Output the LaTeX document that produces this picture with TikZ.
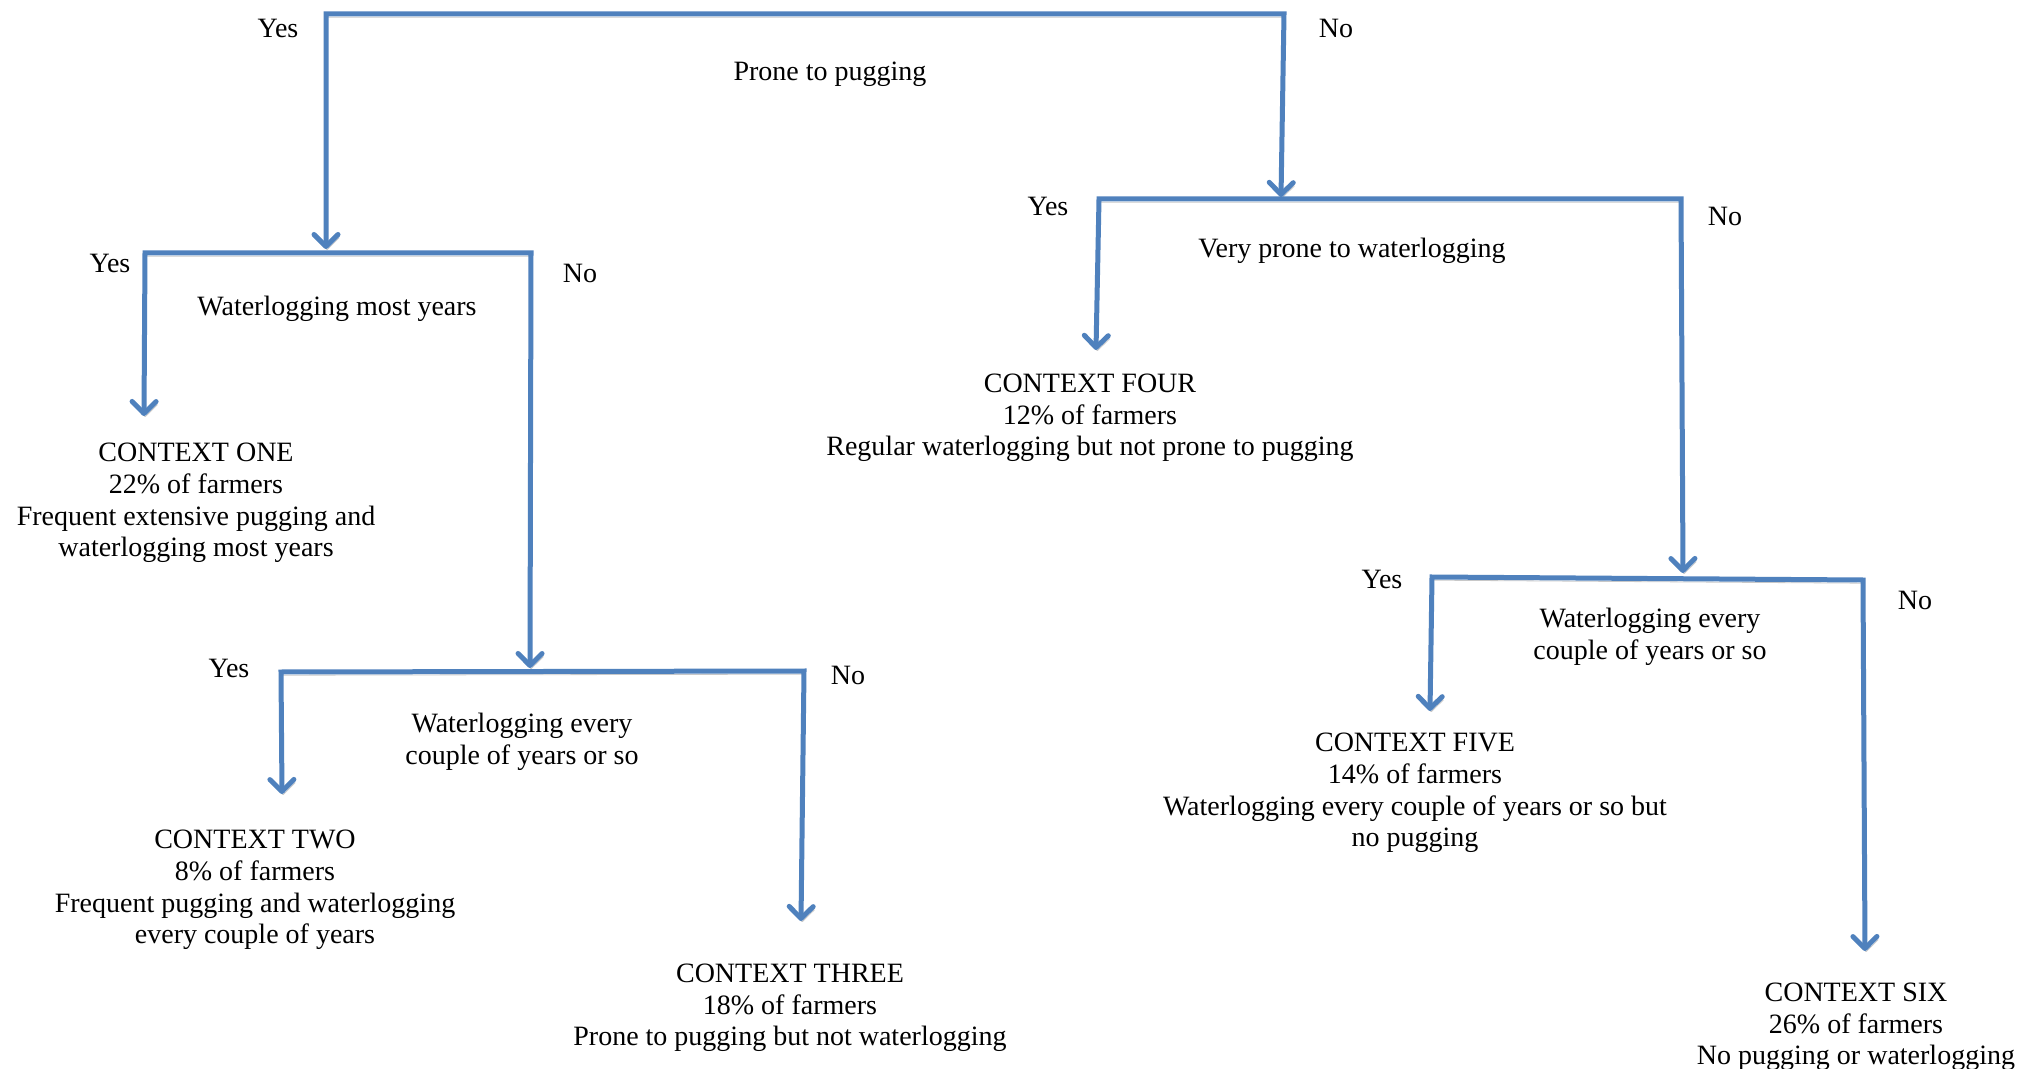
\documentclass[tikz,border=0pt]{standalone}
\usepackage{fontspec}
\setmainfont{Liberation Serif}
\usetikzlibrary{arrows.meta}
\definecolor{lineblue}{HTML}{4F81BD}
\definecolor{shadowgray}{HTML}{C8C8C8}
\begin{document}
\begin{tikzpicture}[x=0.5pt,y=-0.5pt,
  txt/.style={font=\fontsize{14pt}{15.8pt}\selectfont, inner sep=0pt, align=center, text=black},
  barb/.tip={Straight Barb[length=6pt,width=12pt,round]},
  conn/.style={draw=lineblue, line width=2.5pt, line join=miter, barb-barb,
     preaction={draw=shadowgray, transform canvas={shift={(0.6pt,-1.6pt)}}}},
]
\fill[white] (0,0) rectangle (2019,1069);
\useasboundingbox (0,0) rectangle (2019,1069);

% ---- bar corners and arrow tips ----
\coordinate (b1L) at (326,14);   \coordinate (b1R) at (1284,14);
\coordinate (t1L) at (326,249);  \coordinate (t1R) at (1281,197);
\coordinate (b2L) at (145,253);  \coordinate (b2R) at (531,253);
\coordinate (t2L) at (144,416);  \coordinate (t2R) at (530,668);
\coordinate (b3L) at (281,672);  \coordinate (b3R) at (804,671);
\coordinate (t3L) at (282,794);  \coordinate (t3R) at (801,921);
\coordinate (b4L) at (1099,199); \coordinate (b4R) at (1681,199);
\coordinate (t4L) at (1096,350); \coordinate (t4R) at (1683,573);
\coordinate (b5L) at (1432,577); \coordinate (b5R) at (1863,580);
\coordinate (t5L) at (1430,711); \coordinate (t5R) at (1865,951);

% ---- texts ----
\node[txt] (yes1) at (278,28) {Yes};
\node[txt] (no1) at (1336,28) {No};
\node[txt] (q1) at (830,74) {Prone to pugging};

\node[txt] (yes2) at (110,263) {Yes};
\node[txt] (no2) at (580,273) {No};
\node[txt] (q2) at (337,309) {Waterlogging most years};

\node[txt] (c1) at (196,503) {CONTEXT ONE\\22\% of farmers\\Frequent extensive pugging and\\waterlogging most years};

\node[txt] (yes3) at (229,668) {Yes};
\node[txt] (no3) at (848,675) {No};
\node[txt] (q3) at (522,742) {Waterlogging every\\couple of years or so};

\node[txt] (c2) at (255,890) {CONTEXT TWO\\8\% of farmers\\Frequent pugging and waterlogging\\every couple of years};
\node[txt] (c3) at (790,1008) {CONTEXT THREE\\18\% of farmers\\Prone to pugging but not waterlogging};

\node[txt] (yes4) at (1048,206) {Yes};
\node[txt] (no4) at (1725,216) {No};
\node[txt] (q4) at (1352,251) {Very prone to waterlogging};

\node[txt] (c4) at (1090,418) {CONTEXT FOUR\\12\% of farmers\\Regular waterlogging but not prone to pugging};

\node[txt] (yes5) at (1382,579) {Yes};
\node[txt] (no5) at (1915,600) {No};
\node[txt] (q5) at (1650,637) {Waterlogging every\\couple of years or so};

\node[txt] (c5) at (1415,793) {CONTEXT FIVE\\14\% of farmers\\Waterlogging every couple of years or so but\\no pugging};
\node[txt] (c6) at (1856,1027) {CONTEXT SIX\\26\% of farmers\\No pugging or waterlogging};

% ---- connectors ----
\draw[conn] (t1L) -- (b1L) -- (b1R) -- (t1R);
\draw[conn] (t2L) -- (b2L) -- (b2R) -- (t2R);
\draw[conn] (t3L) -- (b3L) -- (b3R) -- (t3R);
\draw[conn] (t4L) -- (b4L) -- (b4R) -- (t4R);
\draw[conn] (t5L) -- (b5L) -- (b5R) -- (t5R);
\end{tikzpicture}
\end{document}
